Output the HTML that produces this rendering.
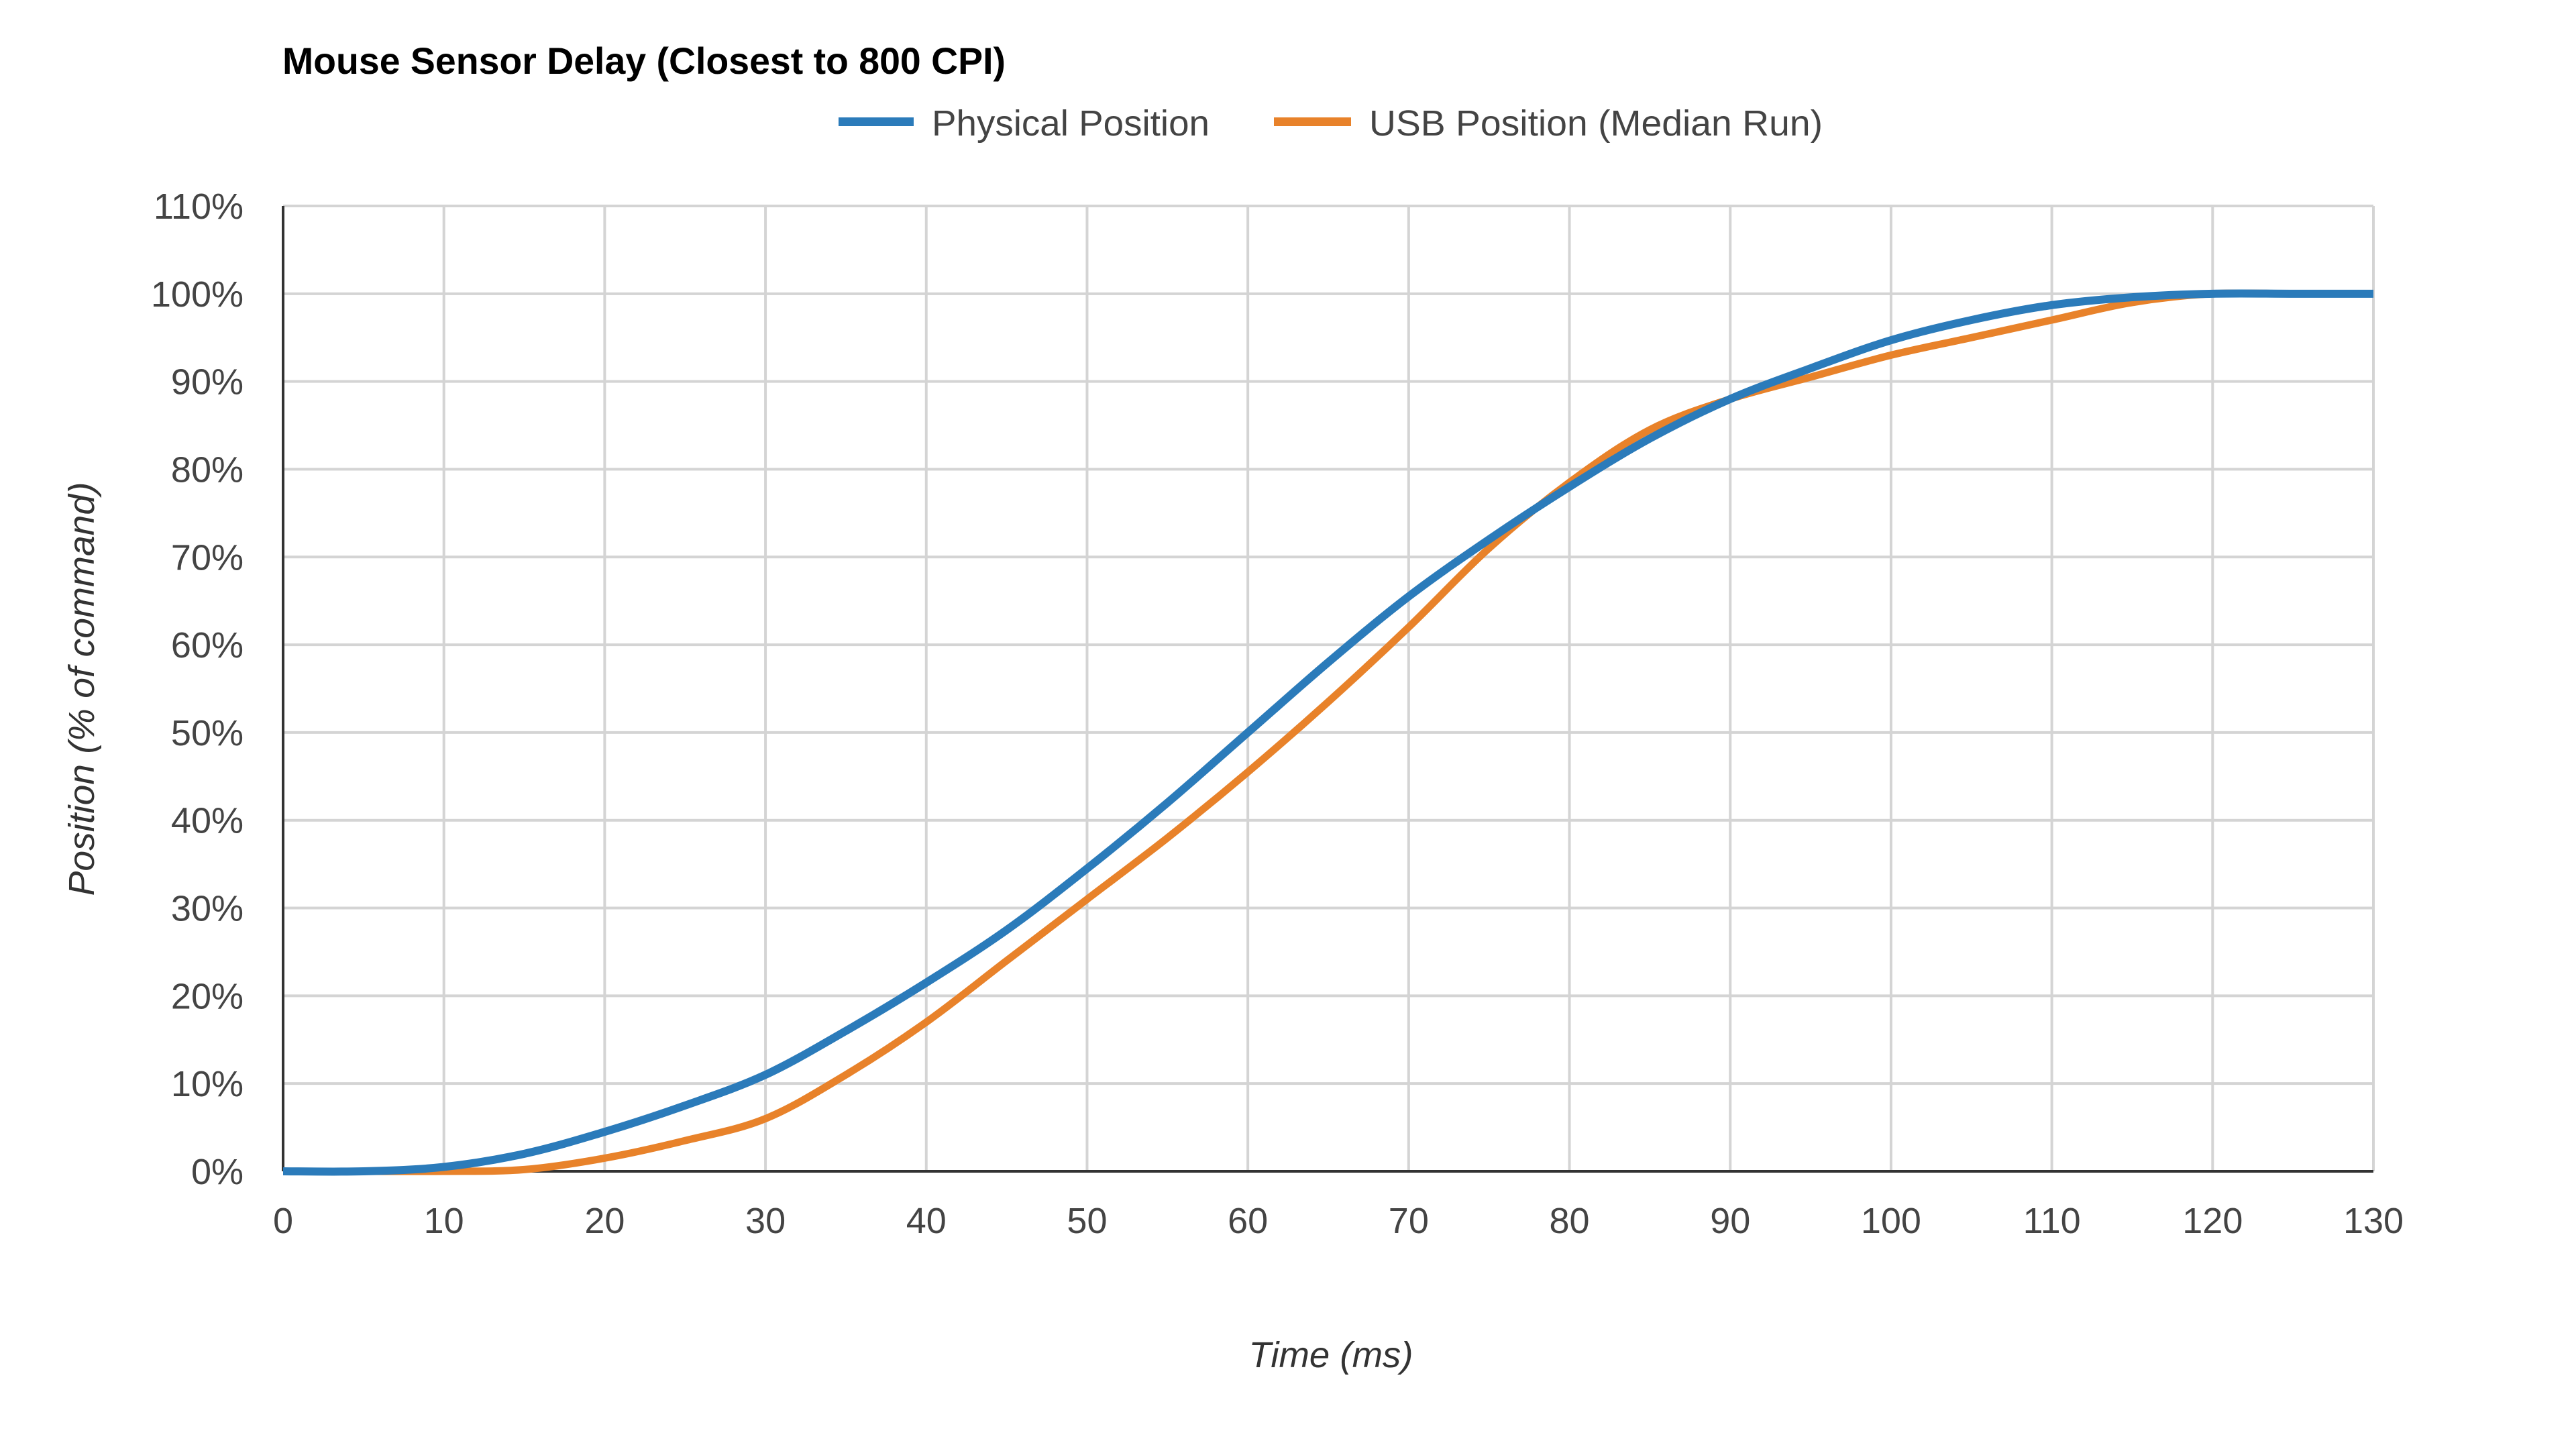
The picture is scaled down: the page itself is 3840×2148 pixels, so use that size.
<!DOCTYPE html>
<html><head><meta charset="utf-8"><style>
html,body{margin:0;padding:0;background:#fff;}
svg{display:block;font-family:"Liberation Sans",Arial,sans-serif;}
</style></head><body>
<svg id="chart" width="3840" height="2148" viewBox="0 0 3840 2148" xmlns="http://www.w3.org/2000/svg">
<rect width="3840" height="2148" fill="#fff"/>
<text x="421" y="110" font-size="56" font-weight="bold" fill="#000" textLength="1078" lengthAdjust="spacingAndGlyphs">Mouse Sensor Delay (Closest to 800 CPI)</text>
<g>
<g>
<rect x="1250" y="175" width="112" height="13" fill="#2b7bba"/>
<text x="1389" y="202" font-size="54" fill="#444" textLength="414" lengthAdjust="spacingAndGlyphs">Physical Position</text>
</g>
<g>
<rect x="1899" y="175" width="115" height="13" fill="#e8822a"/>
<text x="2041" y="202" font-size="54" fill="#444" textLength="676" lengthAdjust="spacingAndGlyphs">USB Position (Median Run)</text>
</g>
</g>
<g id="grid"></g>
<g id="yticks"></g>
<g id="xticks"></g>
<g id="series"></g>
<text x="1984" y="2038" font-size="54" font-style="italic" fill="#333" text-anchor="middle" textLength="245" lengthAdjust="spacingAndGlyphs">Time (ms)</text>
<text transform="translate(140,1027) rotate(-90)" font-size="54" font-style="italic" fill="#333" text-anchor="middle" textLength="617" lengthAdjust="spacingAndGlyphs">Position (% of command)</text>
</svg>
<script>
const xTicks = [0,10,20,30,40,50,60,70,80,90,100,110,120,130];
const yTicks = [0,10,20,30,40,50,60,70,80,90,100,110];
const times = [0,5,10,15,20,25,30,35,40,45,50,55,60,65,70,75,80,85,90,95,100,105,110,115,120,125,130];
const physical = [0,0,0.5,2,4.5,7.5,11,16,21.5,27.5,34.5,42,50,58,65.5,72,78,83.5,88,91.5,94.7,97,98.7,99.6,100,100,100];
const usb = [0,0,0,0.2,1.5,3.5,6,11,17,24,31,38,45.5,53.5,62,71,78.5,84.5,88,90.5,93,95,97,99,100,100,100];

const X0=422, X1=3538, Y0=1746, Y1=307;
function sx(v){return X0+(v-0)/(130-0)*(X1-X0);}
function sy(v){return Y0-(v-0)/(110-0)*(Y0-Y1);}
const NS="http://www.w3.org/2000/svg";
function mk(tag,attrs,parent){const e=document.createElementNS(NS,tag);for(const k in attrs)e.setAttribute(k,attrs[k]);parent.appendChild(e);return e;}
const grid=document.getElementById('grid'), yt=document.getElementById('yticks'), xt=document.getElementById('xticks'), ser=document.getElementById('series');
yTicks.forEach(v=>{
  const l=mk('line',{x1:X0,x2:X1,y1:sy(v),y2:sy(v),stroke:'#d4d4d4','stroke-width':4},grid);
  
  
  const t=mk('text',{x:363,y:sy(v)+19,'font-size':54,fill:'#444','text-anchor':'end'},yt);
  t.textContent=v+'%';
  
  
});
xTicks.forEach(v=>{
  const l=mk('line',{x1:sx(v),x2:sx(v),y1:Y1,y2:Y0,stroke:'#d4d4d4','stroke-width':4},grid);
  
  
  const t=mk('text',{x:sx(v),y:1838,'font-size':54,fill:'#444','text-anchor':'middle'},xt);
  t.textContent=String(v);
  
  
});
const ax=mk('line',{x1:X0,x2:X0,y1:Y1,y2:Y0,stroke:'#333','stroke-width':4},grid);


const bx=mk('line',{x1:X0,x2:X1,y1:Y0,y2:Y0,stroke:'#333','stroke-width':4},grid);


function pathFor(xs,ys){
  const p=xs.map((x,i)=>[sx(x),sy(ys[i])]);
  let d='M'+p[0][0]+','+p[0][1];
  for(let i=0;i<p.length-1;i++){
    const p0=p[Math.max(0,i-1)],p1=p[i],p2=p[i+1],p3=p[Math.min(p.length-1,i+2)];
    const c1=[p1[0]+(p2[0]-p0[0])/6,p1[1]+(p2[1]-p0[1])/6];
    const c2=[p2[0]-(p3[0]-p1[0])/6,p2[1]-(p3[1]-p1[1])/6];
    d+=' C'+c1[0]+','+c1[1]+' '+c2[0]+','+c2[1]+' '+p2[0]+','+p2[1];
  }
  return d;
}
const pu=mk('path',{d:pathFor(times,usb),fill:'none',stroke:'#e8822a','stroke-width':11,'stroke-linejoin':'round'},ser);


const pp=mk('path',{d:pathFor(times,physical),fill:'none',stroke:'#2b7bba','stroke-width':12,'stroke-linejoin':'round'},ser);


</script>
</body></html>
